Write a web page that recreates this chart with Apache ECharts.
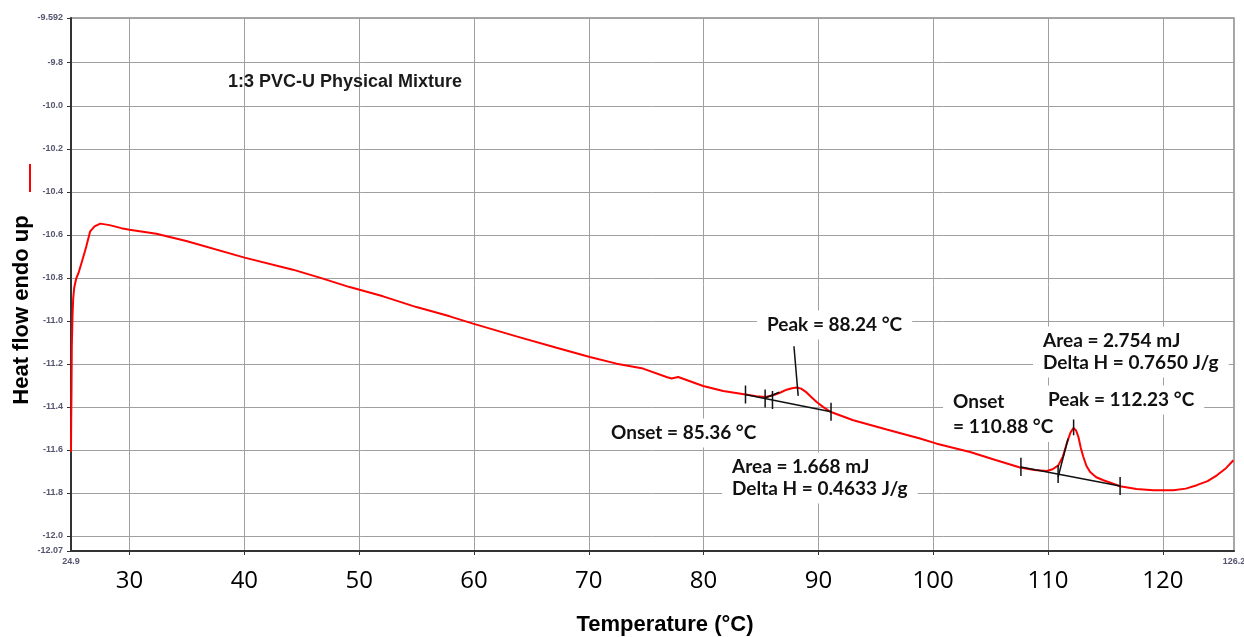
<!DOCTYPE html>
<html><head><meta charset="utf-8">
<script src="https://cdn.jsdelivr.net/npm/echarts@6/dist/echarts.min.js"></script>
<style>html,body{margin:0;padding:0;background:#fff}#c{width:1244px;height:637px}</style>
</head><body><div id="c"></div>
<script>
// ---- data ----
const temperature = [24.90,24.92,24.94,24.97,25.03,25.09,25.18,25.35,25.58,25.88,26.22,26.57,26.95,27.45,28.26,29.28,30.00,32.33,34.94,40.02,44.23,46.56,49.17,52.08,54.99,57.89,59.92,63.70,67.19,70.09,72.42,74.73,76.77,77.21,77.79,79.96,81.71,83.66,84.60,85.40,86.06,86.70,87.23,87.70,88.10,88.50,88.90,89.40,89.85,90.40,91.09,93.04,95.95,98.85,100.31,103.21,105.50,107.56,108.80,109.89,110.40,110.90,111.30,111.63,111.95,112.21,112.45,112.65,112.85,113.08,113.35,113.67,114.20,114.83,116.28,117.70,119.18,120.92,122.00,122.96,123.90,124.71,125.50,126.15];
const heatFlow = [-11.610,-11.450,-11.354,-11.122,-10.982,-10.897,-10.846,-10.804,-10.773,-10.719,-10.657,-10.584,-10.561,-10.548,-10.555,-10.569,-10.576,-10.595,-10.629,-10.706,-10.762,-10.799,-10.843,-10.886,-10.936,-10.979,-11.013,-11.072,-11.125,-11.168,-11.199,-11.222,-11.261,-11.268,-11.261,-11.303,-11.326,-11.342,-11.350,-11.354,-11.346,-11.333,-11.320,-11.313,-11.310,-11.315,-11.330,-11.355,-11.377,-11.400,-11.424,-11.462,-11.505,-11.547,-11.571,-11.610,-11.648,-11.682,-11.693,-11.698,-11.690,-11.672,-11.630,-11.571,-11.520,-11.498,-11.510,-11.540,-11.590,-11.633,-11.675,-11.703,-11.727,-11.741,-11.769,-11.782,-11.788,-11.788,-11.780,-11.764,-11.745,-11.718,-11.685,-11.648];

const xTickValues = [30,40,50,60,70,80,90,100,110,120];
const xEdgeValues = [24.9,126.2];
const yTickValues = [-9.592,-9.8,-10.0,-10.2,-10.4,-10.6,-10.8,-11.0,-11.2,-11.4,-11.6,-11.8,-12.0,-12.07];

// analysis construction lines (x, y pairs)
const baseline1 = [[83.60,-11.342],[91.10,-11.423]];
const peakLine1 = [[87.87,-11.118],[88.24,-11.349]];
const onsetLine1 = [[85.30,-11.360],[86.60,-11.332]];
const ticks1X = [83.65,85.36,86.00,91.10];
const baseline2 = [[107.64,-11.679],[116.28,-11.768]];
const onsetLine2 = [[110.88,-11.726],[111.75,-11.547]];
const peakLine2 = [[112.23,-11.459],[112.23,-11.532]];
const ticks2X = [107.64,110.88,116.28];
const tickHalf = 0.042;

const titleText = '1:3 PVC-U Physical Mixture';
const xName = 'Temperature (°C)';
const yName = 'Heat flow endo up';
const notes = {
  peak1: 'Peak = 88.24 °C',
  onset1: 'Onset = 85.36 °C',
  area1: 'Area = 1.668 mJ\nDelta H = 0.4633 J/g',
  area2: 'Area = 2.754 mJ\nDelta H = 0.7650 J/g',
  onset2: 'Onset\n= 110.88 °C',
  peak2: 'Peak = 112.23 °C'
};

// ---- build ----
function onBase(base, x){
  const [a,b] = base; return a[1] + (x-a[0])/(b[0]-a[0])*(b[1]-a[1]);
}
const segs = [baseline1, peakLine1, onsetLine1, baseline2, onsetLine2, peakLine2];
ticks1X.forEach(x => { const y = onBase(baseline1, x); segs.push([[x, y+tickHalf],[x, y-tickHalf]]); });
ticks2X.forEach(x => { const y = onBase(baseline2, x); segs.push([[x, y+tickHalf],[x, y-tickHalf]]); });

const series = [{
  type:'line', data: temperature.map((t,i)=>[t, heatFlow[i]]),
  symbol:'none', showSymbol:false, lineStyle:{color:'#ff0000', width:2}, z:5, silent:true
}];
segs.forEach(s => series.push({
  type:'line', data:s, symbol:'none', showSymbol:false,
  lineStyle:{color:'#111', width:1.5}, z:6, silent:true
}));

const annFont = 'bold 19px Lato';
function note(text, x, y, lh){
  return {type:'text', x, y, z:100, style:{text, font:annFont, fill:'#111', backgroundColor:'#fff',
    padding:[3,10], textAlign:'left', textVerticalAlign:'middle', lineHeight: lh || 23}};
}

const chart = echarts.init(document.getElementById('c'), null, {renderer:'canvas'});
chart.setOption({
  animation:false,
  grid:{left:71, right:10, top:18, bottom:86, show:true, borderColor:'#8a8a8a', borderWidth:1.5,
        containLabel:false, outerBoundsMode:'none'},
  xAxis:[{
    type:'value', min:24.9, max:126.2, splitNumber:10,
    axisLine:{show:true, onZero:false, lineStyle:{color:'#333', width:2}},
    axisTick:{show:true, customValues:xTickValues, length:4, lineStyle:{color:'#333'}},
    axisLabel:{customValues:xTickValues, margin:18, fontFamily:'Open Sans', fontSize:24, color:'#000'},
    splitLine:{show:true, lineStyle:{color:'#a0a0a0', width:1}}
  },{
    type:'value', min:24.9, max:126.2, position:'bottom', gridIndex:0,
    axisLine:{show:false}, axisTick:{show:false}, splitLine:{show:false},
    axisLabel:{customValues:xEdgeValues, margin:6, fontSize:9, fontWeight:'bold', fontFamily:'Liberation Sans', color:'#555570', formatter:v=>String(v)}
  }],
  yAxis:{
    type:'value', min:-12.07, max:-9.592, splitNumber:12,
    axisLine:{show:true, onZero:false, lineStyle:{color:'#333', width:2}},
    axisTick:{show:true, customValues:yTickValues, length:4, lineStyle:{color:'#333'}},
    axisLabel:{customValues:yTickValues, margin:8, fontSize:9, fontWeight:'bold', fontFamily:'Liberation Sans', color:'#555570',
      formatter:v=> (Math.abs(v+9.592)<1e-6 || Math.abs(v+12.07)<1e-6) ? String(v) : v.toFixed(1)},
    splitLine:{show:true, lineStyle:{color:'#a0a0a0', width:1}}
  },
  series,
  graphic:[
    {type:'text', x:228, y:82, z:100, style:{text:titleText, font:'bold 18px "Liberation Sans"', fill:'#1a1a1a', textVerticalAlign:'middle'}},
    {type:'text', x:665, y:625, z:100, style:{text:xName, font:'bold 22px "Liberation Sans"', fill:'#000', textAlign:'center', textVerticalAlign:'middle'}},
    {type:'text', x:22, y:310, rotation:Math.PI/2, z:100, style:{text:yName, font:'bold 22px "Liberation Sans"', fill:'#000', textAlign:'center', textVerticalAlign:'middle'}},
    {type:'line', z:100, shape:{x1:30, y1:164, x2:30, y2:192}, style:{stroke:'#ff0000', lineWidth:2}},
    note(notes.peak1, 757, 325),
    note(notes.onset1, 601, 433),
    note(notes.area1, 722, 478, 22.5),
    note(notes.area2, 1033, 352, 22.5),
    note(notes.onset2, 943, 414, 25),
    note(notes.peak2, 1038, 400)
  ]
});
</script></body></html>
